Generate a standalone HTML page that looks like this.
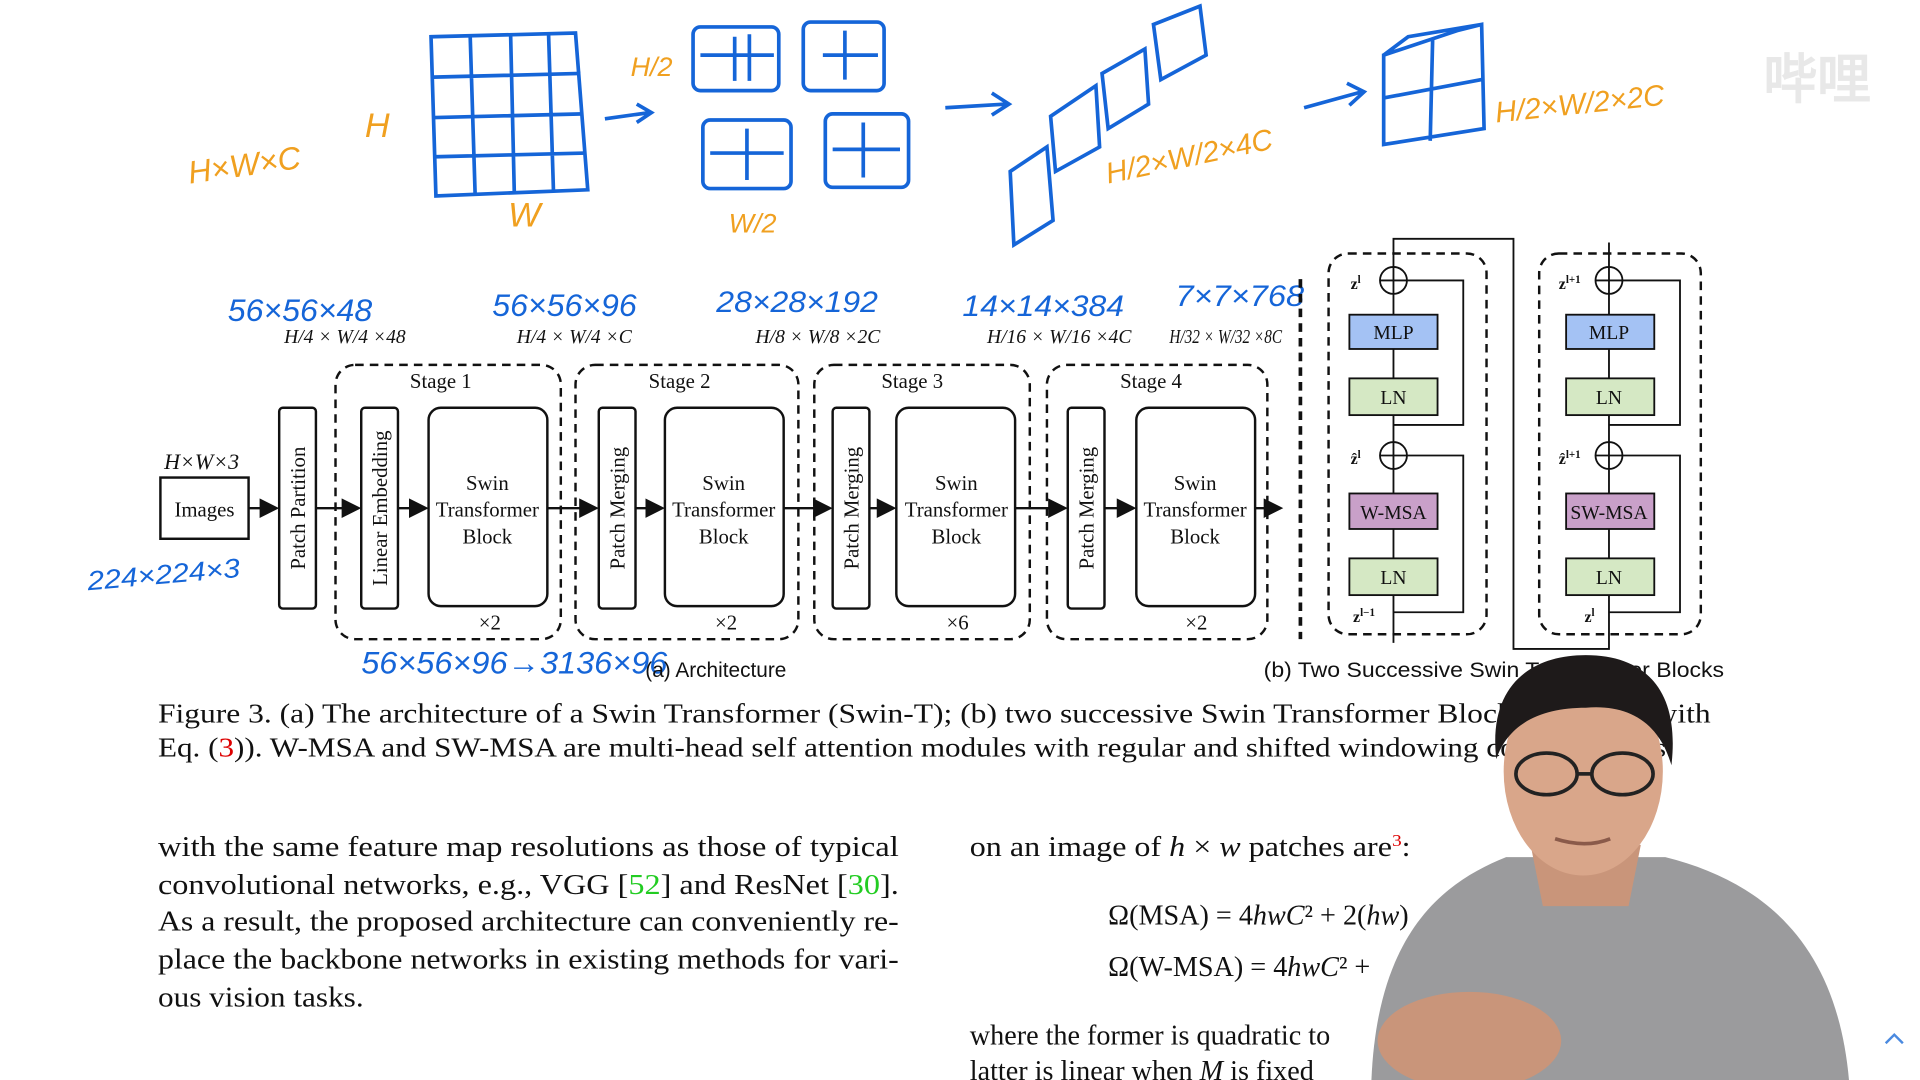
<!DOCTYPE html>
<html><head><meta charset="utf-8"><style>
html,body{margin:0;padding:0;background:#fff;overflow:hidden}
svg{display:block}
.s{font-family:"Liberation Serif",serif;fill:#111}
.a{font-family:"Liberation Sans",sans-serif;fill:#111}
.h{font-family:"Liberation Sans",sans-serif;fill:#1565d8;font-style:italic}
.o{font-family:"Liberation Sans",sans-serif;fill:#f0a020;font-style:italic}
</style></head><body>
<svg width="1920" height="1080" viewBox="0 0 1568 882" xmlns="http://www.w3.org/2000/svg">
<defs><marker id="ar" markerWidth="8" markerHeight="8" refX="7" refY="4" orient="auto"><path d="M0,0 L8,4 L0,8z" fill="#111"/></marker></defs>
<rect width="1568" height="882" fill="#fff"/>
<g stroke="#1565d8" stroke-width="3" fill="none">
<path d="M352,30 L470,27 L480,155 L356,160 Z"/>
<path d="M384,30 L388,158 M417,28 L420,157 M448,28 L452,156 M354,63 L474,60 M355,96 L476,93 M356,128 L478,125"/>
<path d="M494,97 L530,92 M520,85 L532,92 L520,100"/>
<rect x="566" y="22" width="70" height="52" rx="6"/><rect x="656" y="18" width="66" height="56" rx="6"/>
<rect x="574" y="98" width="72" height="56" rx="6"/><rect x="674" y="93" width="68" height="60" rx="6"/>
<path d="M600,30 v36 M612,28 v38 M572,45 h60 M690,25 v40 M672,45 h45 M610,105 v42 M580,125 h60 M705,100 v45 M680,122 h55"/>
<path d="M772,88 L822,85 M810,76 L824,85 L810,94"/>
<path d="M825,140 L855,120 L860,180 L828,200 Z M858,95 L895,70 L898,120 L862,140 Z M900,60 L935,40 L938,85 L905,105 Z M942,20 L980,5 L985,45 L948,65 Z"/>
<path d="M1065,88 L1112,75 M1100,68 L1114,75 L1102,86"/>
<path d="M1130,45 L1190,25 L1210,20 L1212,105 L1130,118 Z M1130,45 L1150,30 L1210,20 M1170,32 L1168,115 M1130,80 L1210,65"/>
</g>
<text class="o" x="155" y="150" font-size="26" transform="rotate(-8 155 150)">H×W×C</text>
<text class="o" x="298" y="112" font-size="28">H</text>
<text class="o" x="415" y="185" font-size="28">W</text>
<text class="o" x="515" y="62" font-size="22">H/2</text>
<text class="o" x="595" y="190" font-size="22">W/2</text>
<text class="o" x="905" y="150" font-size="24" transform="rotate(-12 905 150)">H/2×W/2×4C</text>
<text class="o" x="1222" y="100" font-size="24" transform="rotate(-6 1222 100)">H/2×W/2×2C</text>
<text x="1440" y="80" font-size="44" fill="#e8e8e8" font-family="Liberation Sans,sans-serif" font-weight="bold">哔哩</text>
<text class="h" x="186" y="262" font-size="26" textLength="118" lengthAdjust="spacingAndGlyphs">56×56×48</text>
<text class="h" x="402" y="258" font-size="26" textLength="118" lengthAdjust="spacingAndGlyphs">56×56×96</text>
<text class="h" x="585" y="255" font-size="24" textLength="132" lengthAdjust="spacingAndGlyphs">28×28×192</text>
<text class="h" x="786" y="258" font-size="24" textLength="132" lengthAdjust="spacingAndGlyphs">14×14×384</text>
<text class="h" x="960" y="250" font-size="24" textLength="105" lengthAdjust="spacingAndGlyphs">7×7×768</text>
<text class="h" x="72" y="482" font-size="22" transform="rotate(-5 72 482)" textLength="125" lengthAdjust="spacingAndGlyphs">224×224×3</text>
<text class="h" x="295" y="550" font-size="26" textLength="250" lengthAdjust="spacingAndGlyphs">56×56×96→3136×96</text>
<g class="s" font-size="16" font-style="italic">
<text x="232" y="280">H/4 × W/4 ×48</text>
<text x="422" y="280">H/4 × W/4 ×C</text>
<text x="617" y="280">H/8 × W/8 ×2C</text>
<text x="806" y="280">H/16 × W/16 ×4C</text>
<text x="955" y="280" textLength="92" lengthAdjust="spacingAndGlyphs">H/32 × W/32 ×8C</text>
<text x="134" y="383" font-size="18">H×W×3</text>
</g>
<g fill="none" stroke="#111" stroke-width="2">
<rect x="131" y="390" width="72" height="50"/>
<rect x="228" y="333" width="30" height="164" rx="3"/>
<rect x="295" y="333" width="30" height="164" rx="3"/>
<rect x="350" y="333" width="97" height="162" rx="10"/>
<rect x="489" y="333" width="30" height="164" rx="3"/>
<rect x="543" y="333" width="97" height="162" rx="10"/>
<rect x="680" y="333" width="30" height="164" rx="3"/>
<rect x="732" y="333" width="97" height="162" rx="10"/>
<rect x="872" y="333" width="30" height="164" rx="3"/>
<rect x="928" y="333" width="97" height="162" rx="10"/>
<g stroke-dasharray="7,5">
<rect x="274" y="298" width="184" height="224" rx="16"/>
<rect x="470" y="298" width="182" height="224" rx="16"/>
<rect x="665" y="298" width="176" height="224" rx="16"/>
<rect x="855" y="298" width="180" height="224" rx="16"/>
<rect x="1085" y="207" width="129" height="311" rx="16"/>
<rect x="1257" y="207" width="132" height="311" rx="16"/>
<path d="M1062,228 L1062,522" stroke-width="3"/>
</g>
<g marker-end="url(#ar)">
<path d="M203,415 L226,415"/><path d="M258,415 L293,415"/><path d="M325,415 L348,415"/>
<path d="M447,415 L487,415"/><path d="M519,415 L541,415"/><path d="M640,415 L678,415"/>
<path d="M710,415 L730,415"/><path d="M829,415 L870,415"/><path d="M902,415 L926,415"/><path d="M1025,415 L1046,415"/>
</g>
</g>
<g class="s" font-size="17" text-anchor="middle">
<text x="167" y="422">Images</text>
<text x="360" y="317">Stage 1</text><text x="555" y="317">Stage 2</text><text x="745" y="317">Stage 3</text><text x="940" y="317">Stage 4</text>
<text x="400" y="514">×2</text><text x="593" y="514">×2</text><text x="782" y="514">×6</text><text x="977" y="514">×2</text>
<text x="398" y="400">Swin</text><text x="398" y="422">Transformer</text><text x="398" y="444">Block</text>
<text x="591" y="400">Swin</text><text x="591" y="422">Transformer</text><text x="591" y="444">Block</text>
<text x="781" y="400">Swin</text><text x="781" y="422">Transformer</text><text x="781" y="444">Block</text>
<text x="976" y="400">Swin</text><text x="976" y="422">Transformer</text><text x="976" y="444">Block</text>
<text transform="translate(249,415) rotate(-90)">Patch Partition</text>
<text transform="translate(316,415) rotate(-90)">Linear Embedding</text>
<text transform="translate(510,415) rotate(-90)">Patch Merging</text>
<text transform="translate(701,415) rotate(-90)">Patch Merging</text>
<text transform="translate(893,415) rotate(-90)">Patch Merging</text>
</g>
<g stroke="#111" stroke-width="1.5">
<rect x="1102" y="257" width="72" height="28" fill="#a4c2f4"/><rect x="1102" y="309" width="72" height="30" fill="#d5e8c4"/>
<rect x="1102" y="403" width="72" height="29" fill="#c9a0c9"/><rect x="1102" y="456" width="72" height="30" fill="#d5e8c4"/>
<rect x="1279" y="257" width="72" height="28" fill="#a4c2f4"/><rect x="1279" y="309" width="72" height="30" fill="#d5e8c4"/>
<rect x="1279" y="403" width="72" height="29" fill="#c9a0c9"/><rect x="1279" y="456" width="72" height="30" fill="#d5e8c4"/>
<g fill="none">
<circle cx="1138" cy="229" r="11"/><circle cx="1138" cy="372" r="11"/><circle cx="1314" cy="229" r="11"/><circle cx="1314" cy="372" r="11"/>
<path d="M1127,229h22M1138,218v22M1127,372h22M1138,361v22M1303,229h22M1314,218v22M1303,372h22M1314,361v22"/>
<path d="M1138,525V486M1138,456V432M1138,403V383M1138,361V339M1138,309V285M1138,257V240M1138,218V195H1236V530H1314V486M1314,456V432M1314,403V383M1314,361V339M1314,309V285M1314,257V240M1314,218V198"/>
<path d="M1138,500H1195V372H1149M1138,347H1195V229H1149M1314,500H1372V372H1325M1314,347H1372V229H1325"/>
</g></g>
<g class="s" font-size="16" text-anchor="middle">
<text x="1138" y="277">MLP</text><text x="1138" y="330">LN</text><text x="1138" y="424">W-MSA</text><text x="1138" y="477">LN</text>
<text x="1314" y="277">MLP</text><text x="1314" y="330">LN</text><text x="1314" y="424">SW-MSA</text><text x="1314" y="477">LN</text>
</g>
<g class="s" font-size="13" font-weight="bold"><text x="1103" y="236">z<tspan font-size="9" dy="-5">l</tspan></text><text x="1103" y="379">ẑ<tspan font-size="9" dy="-5">l</tspan></text><text x="1105" y="508">z<tspan font-size="9" dy="-5">l−1</tspan></text>
<text x="1273" y="236">z<tspan font-size="9" dy="-5">l+1</tspan></text><text x="1273" y="379">ẑ<tspan font-size="9" dy="-5">l+1</tspan></text><text x="1294" y="508">z<tspan font-size="9" dy="-5">l</tspan></text></g>
<text class="a" x="527" y="553" font-size="17">(a) Architecture</text>
<text class="a" x="1032" y="553" font-size="17" textLength="376" lengthAdjust="spacingAndGlyphs">(b) Two Successive Swin Transformer Blocks</text>
<g class="s" font-size="22">
<text x="129" y="590" textLength="1268" lengthAdjust="spacingAndGlyphs">Figure 3. (a) The architecture of a Swin Transformer (Swin-T); (b) two successive Swin Transformer Blocks (notation with</text>
<text x="129" y="618" textLength="1238" lengthAdjust="spacingAndGlyphs">Eq. (<tspan fill="#d00">3</tspan>)). W-MSA and SW-MSA are multi-head self attention modules with regular and shifted windowing configurations.</text>
<g font-size="23">
<text x="129" y="699" textLength="605" lengthAdjust="spacingAndGlyphs">with the same feature map resolutions as those of typical</text>
<text x="129" y="730" textLength="605" lengthAdjust="spacingAndGlyphs">convolutional networks, e.g., VGG [<tspan fill="#2c2">52</tspan>] and ResNet [<tspan fill="#2c2">30</tspan>].</text>
<text x="129" y="760" textLength="605" lengthAdjust="spacingAndGlyphs">As a result, the proposed architecture can conveniently re-</text>
<text x="129" y="791" textLength="605" lengthAdjust="spacingAndGlyphs">place the backbone networks in existing methods for vari-</text>
<text x="129" y="822" textLength="168" lengthAdjust="spacingAndGlyphs">ous vision tasks.</text>
<text x="792" y="699" textLength="360" lengthAdjust="spacingAndGlyphs">on an image of <tspan font-style="italic">h</tspan> × <tspan font-style="italic">w</tspan> patches are<tspan fill="#d00" font-size="14" dy="-8">3</tspan><tspan dy="8">:</tspan></text>
<text x="905" y="755">Ω(MSA) = 4<tspan font-style="italic">hwC</tspan>² + 2(<tspan font-style="italic">hw</tspan>)</text>
<text x="905" y="797">Ω(W-MSA) = 4<tspan font-style="italic">hwC</tspan>² +</text>
<text x="792" y="853">where the former is quadratic to</text>
<text x="792" y="882">latter is linear when <tspan font-style="italic">M</tspan> is fixed</text>
</g></g>
<path d="M1120,882 C1125,760 1180,720 1230,700 L1360,700 C1440,720 1500,770 1510,882 Z" fill="#9b9b9d"/>
<path d="M1250,690 L1340,690 L1330,740 L1260,740 Z" fill="#c9957a"/>
<ellipse cx="1293" cy="630" rx="65" ry="85" fill="#d9a68a"/>
<path d="M1222,620 C1215,560 1250,535 1295,535 C1345,535 1372,565 1365,625 C1355,590 1330,575 1295,578 C1260,578 1232,590 1222,620 Z" fill="#1e1a1a"/>
<g fill="none" stroke="#222" stroke-width="3"><ellipse cx="1263" cy="632" rx="25" ry="17"/><ellipse cx="1325" cy="632" rx="25" ry="17"/><path d="M1288,632h12"/></g>
<path d="M1270,685 q25,8 45,0" stroke="#8a5a4a" stroke-width="3" fill="none"/>
<ellipse cx="1200" cy="850" rx="75" ry="40" fill="#c9957a"/>
<path d="M1540,852 l7,-7 l7,7" stroke="#4a8ae0" stroke-width="2" fill="none"/>
</svg>
</body></html>
